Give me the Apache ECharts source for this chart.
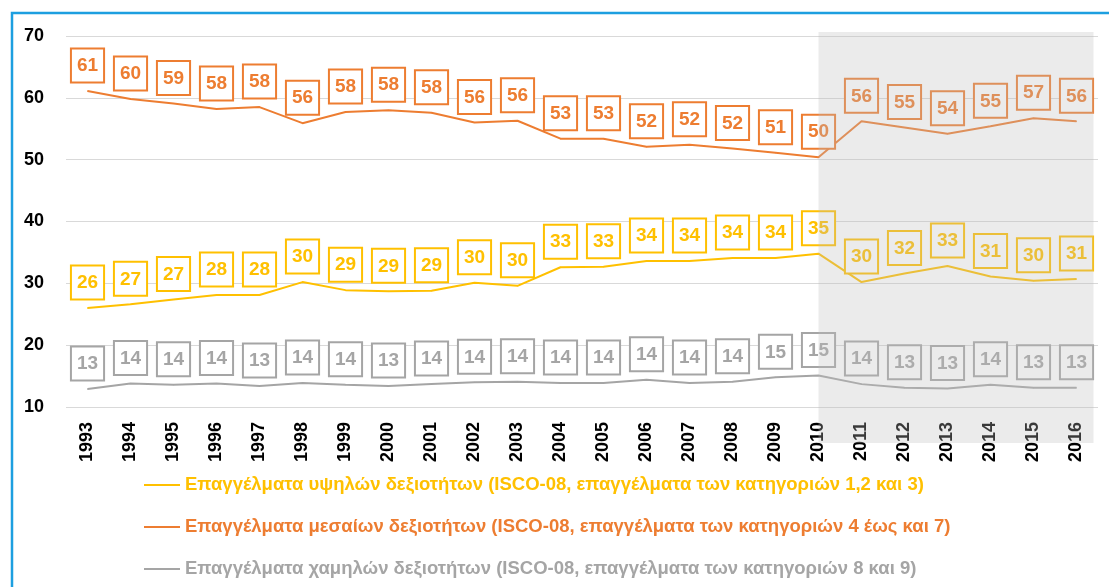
<!DOCTYPE html>
<html>
<head>
<meta charset="utf-8">
<script src="https://cdn.jsdelivr.net/npm/echarts@6/dist/echarts.min.js"></script>
<style>
  html, body { margin: 0; padding: 0; background: #fff; }
  #main { width: 1109px; height: 587px; }
</style>
</head>
<body>
<div id="main"></div>
<script>
// 年份
var years = ['1993','1994','1995','1996','1997','1998','1999','2000','2001','2002','2003','2004',
             '2005','2006','2007','2008','2009','2010','2011','2012','2013','2014','2015','2016'];

// 高技能
var highSkill = [26.0,26.6,27.4,28.1,28.1,30.2,28.9,28.7,28.8,30.1,29.6,32.6,
                 32.7,33.6,33.6,34.1,34.1,34.8,30.2,31.6,32.8,31.1,30.4,30.7];
var highLabels = [26,27,27,28,28,30,29,29,29,30,30,33,33,34,34,34,34,35,30,32,33,31,30,31];

// 中技能
var midSkill = [61.1,59.8,59.1,58.2,58.5,55.9,57.7,58.0,57.6,56.0,56.3,53.4,
                53.4,52.1,52.4,51.8,51.1,50.4,56.2,55.2,54.2,55.4,56.7,56.2];
var midLabels = [61,60,59,58,58,56,58,58,58,56,56,53,53,52,52,52,51,50,56,55,54,55,57,56];

// 低技能
var lowSkill = [12.9,13.8,13.6,13.8,13.4,13.9,13.6,13.4,13.7,14.0,14.1,13.9,
                13.9,14.4,13.9,14.1,14.8,15.1,13.7,13.1,13.0,13.6,13.1,13.1];
var lowLabels = [13,14,14,14,13,14,14,13,14,14,14,14,14,14,14,14,15,15,14,13,13,14,13,13];

var yTicks = [10, 70, 10]; // min, max, interval

var names = [
    'Επαγγέλματα υψηλών δεξιοτήτων (ISCO-08, επαγγέλματα των κατηγοριών 1,2 και 3)',
    'Επαγγέλματα μεσαίων δεξιοτήτων (ISCO-08, επαγγέλματα των κατηγοριών 4 έως και 7)',
    'Επαγγέλματα χαμηλών δεξιοτήτων (ISCO-08, επαγγέλματα των κατηγοριών 8 και 9)'
];
var colors = ['#FFC000', '#ED7D31', '#A5A5A5'];

var font = '"Liberation Sans", Arial, sans-serif';

var myChart = echarts.init(document.getElementById('main'));

function makeSeries(idx, data, labels) {
    return {
        name: names[idx],
        type: 'line',
        data: data,
        symbol: 'circle',
        symbolSize: 1,
        showSymbol: true,
        lineStyle: { color: colors[idx], width: 2 },
        itemStyle: { color: colors[idx] },
        label: {
            show: true,
            position: 'top',
            distance: 9,
            formatter: function (p) { return labels[p.dataIndex]; },
            color: colors[idx],
            fontFamily: font,
            fontWeight: 'bold',
            fontSize: 19,
            lineHeight: 21,
            padding: [6, 5, 5, 5],
            borderColor: colors[idx],
            borderWidth: 2,
            backgroundColor: '#fff'
        },
        labelLayout: { hideOverlap: false },
        z: 2
    };
}

var option = {
    backgroundColor: '#fff',
    animation: false,
    grid: { left: 66, right: 11, top: 36, bottom: 180 },
    legend: {
        orient: 'vertical',
        left: 144,
        top: 475,
        padding: 0,
        itemGap: 22,
        itemWidth: 36,
        itemHeight: 2,
        icon: 'rect',
        textStyle: { fontFamily: font, fontWeight: 'bold', fontSize: 18.5, lineHeight: 20 },
        data: [
            { name: names[0], textStyle: { color: colors[0] } },
            { name: names[1], textStyle: { color: colors[1] } },
            { name: names[2], textStyle: { color: colors[2] } }
        ]
    },
    xAxis: {
        type: 'category',
        data: years,
        boundaryGap: true,
        axisLine: { show: false },
        axisTick: { show: false },
        axisLabel: {
            interval: 0,
            rotate: 90,
            margin: 15,
            color: '#000',
            fontFamily: font,
            fontWeight: 'bold',
            fontSize: 18
        }
    },
    yAxis: {
        type: 'value',
        min: yTicks[0],
        max: yTicks[1],
        interval: yTicks[2],
        axisLine: { show: false },
        axisTick: { show: false },
        splitLine: { lineStyle: { color: '#D9D9D9', width: 1 } },
        axisLabel: {
            margin: 22,
            color: '#000',
            fontFamily: font,
            fontWeight: 'bold',
            fontSize: 18
        }
    },
    series: [
        makeSeries(0, highSkill, highLabels),
        makeSeries(1, midSkill, midLabels),
        makeSeries(2, lowSkill, lowLabels)
    ]
};

myChart.setOption(option);

// 阴影区域 + 蓝色边框
var x0 = myChart.convertToPixel({ xAxisIndex: 0 }, '2010');
var x1 = myChart.convertToPixel({ xAxisIndex: 0 }, '2016') + 17;
var yTop = myChart.convertToPixel({ yAxisIndex: 0 }, 70) - 4;
myChart.setOption({
    graphic: [
        {
            type: 'rect',
            z: 100,
            silent: true,
            shape: { x: x0, y: yTop, width: x1 - x0, height: 443 - yTop },
            style: { fill: 'rgba(190,190,190,0.3)' }
        },
        {
            type: 'rect',
            z: 100,
            silent: true,
            shape: { x: 12, y: 13, width: 1120, height: 600 },
            style: { fill: 'none', stroke: '#1D9FE0', lineWidth: 2.5 }
        }
    ]
});
</script>
</body>
</html>
